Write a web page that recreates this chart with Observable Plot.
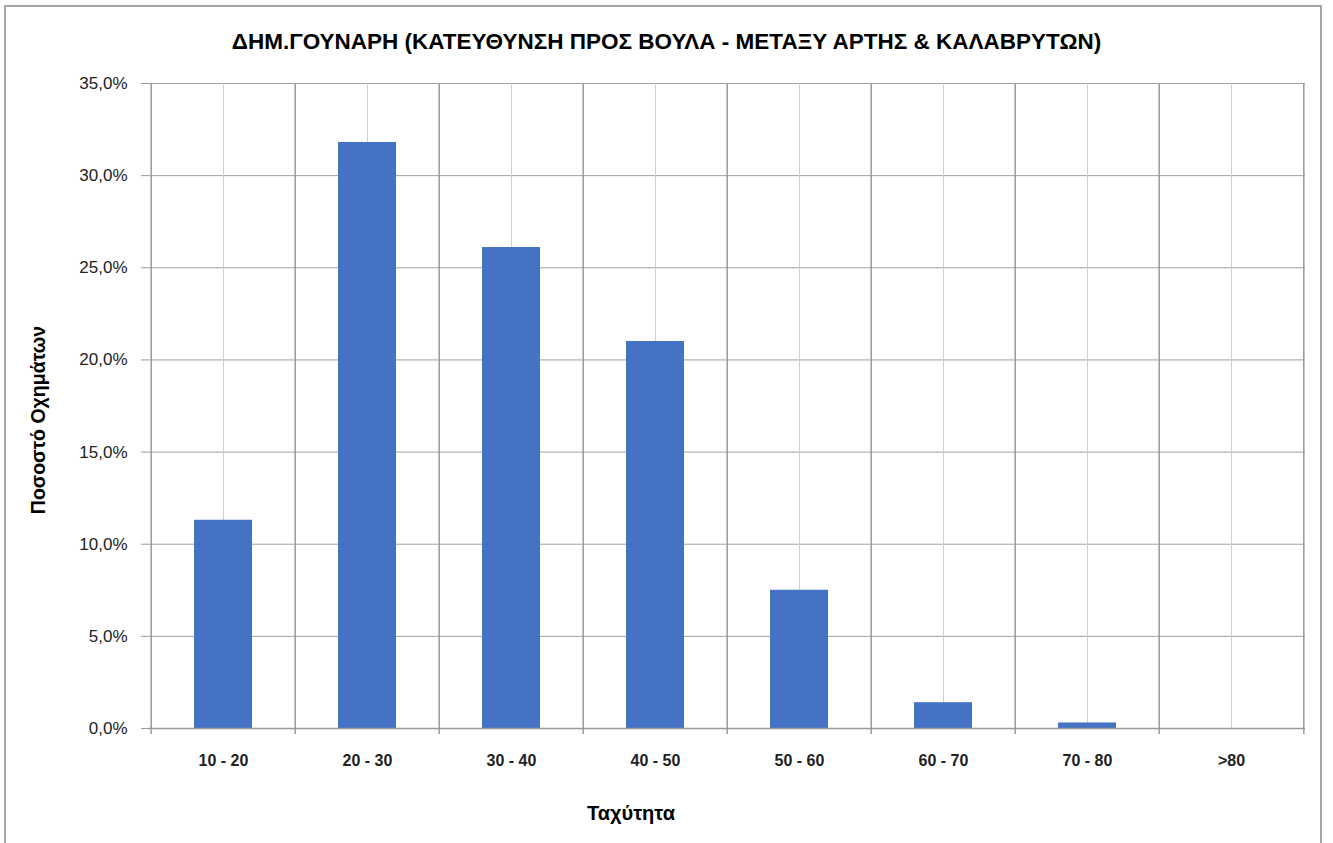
<!DOCTYPE html>
<html>
<head>
<meta charset="utf-8">
<script src="https://cdn.jsdelivr.net/npm/d3@7"></script>
<script src="https://cdn.jsdelivr.net/npm/@observablehq/plot@0.6"></script>
<style>
  html, body { margin: 0; padding: 0; background: #fff; }
  body { width: 1333px; height: 843px; position: relative; overflow: hidden; font-family: "Liberation Sans", Arial, sans-serif; }
  #border { position: absolute; left: 4px; top: 5px; width: 1318px; height: 860px; border: 2px solid #a6a6a6; box-sizing: border-box; }
  #title { position: absolute; left: 0; top: 29px; width: 1333px; text-align: center; font-size: 22.5px; font-weight: bold; line-height: 26px; color: #000; }
  #xlabel { position: absolute; left: 531px; width: 200px; top: 802px; text-align: center; font-size: 20px; font-weight: bold; line-height: 22px; color: #000; }
  #ylabel { position: absolute; left: 38px; top: 420px; transform: translate(-50%, -50%) rotate(-90deg); white-space: nowrap; font-size: 19.5px; font-weight: bold; line-height: 22px; color: #000; }
  #chart { position: absolute; left: 0; top: 60px; }
  #chart [aria-label="x-axis tick label"] text { font-weight: bold; }
</style>
</head>
<body>
<div id="border"></div>
<div id="title">ΔΗΜ.ΓΟΥΝΑΡΗ (ΚΑΤΕΥΘΥΝΣΗ ΠΡΟΣ ΒΟΥΛΑ - ΜΕΤΑΞΥ ΑΡΤΗΣ &amp; ΚΑΛΑΒΡΥΤΩΝ)</div>
<div id="chart"></div>
<div id="ylabel">Ποσοστό Οχημάτων</div>
<div id="xlabel">Ταχύτητα</div>
<script>
const categories = ["10 - 20", "20 - 30", "30 - 40", "40 - 50", "50 - 60", "60 - 70", "70 - 80", ">80"];
const values = [11.3, 31.8, 26.1, 21.0, 7.5, 1.4, 0.3, 0.0];
const yTicks = [0, 5, 10, 15, 20, 25, 30, 35];

const data = categories.map((c, i) => ({category: c, value: values[i]}));

const W = 1333, H = 783, mL = 148, mR = 28, mT = 23, mB = 115;
const step = (W - mL - mR) / categories.length;
const fmt = d => d.toFixed(1).replace(".", ",") + "%";

const chart = Plot.plot({
  width: W, height: H,
  marginTop: mT, marginLeft: mL, marginRight: mR, marginBottom: mB,
  style: {fontFamily: "'Liberation Sans', Arial, sans-serif", fontSize: "16px", color: "#222", background: "transparent"},
  x: {domain: categories, paddingInner: 0.6, paddingOuter: 0.3, label: null},
  y: {domain: [0, 35], label: null},
  marks: [
    Plot.gridY(yTicks, {stroke: "#a0a0a0", strokeOpacity: 1}),
    Plot.gridX(categories, {stroke: "#d0d0d0", strokeOpacity: 1}),
    Plot.barY(data, {x: "category", y: "value", fill: "#4472C4"}),
    Plot.ruleX(categories, {x: d => d, dx: -step / 2, stroke: "#999", strokeWidth: 1.5, insetBottom: -6}),
    Plot.ruleX([categories[categories.length - 1]], {x: d => d, dx: step / 2, stroke: "#999", strokeWidth: 1.5, insetBottom: -6}),
    Plot.ruleY([0], {stroke: "#999", strokeWidth: 1.5}),
    Plot.axisX({tickSize: 0, tickPadding: 26, label: null}),
    Plot.axisY(yTicks, {tickSize: 7, tickPadding: 14, tickFormat: fmt, label: null, stroke: "#999", fontSize: 17})
  ]
});
document.getElementById("chart").appendChild(chart);
</script>
</body>
</html>
